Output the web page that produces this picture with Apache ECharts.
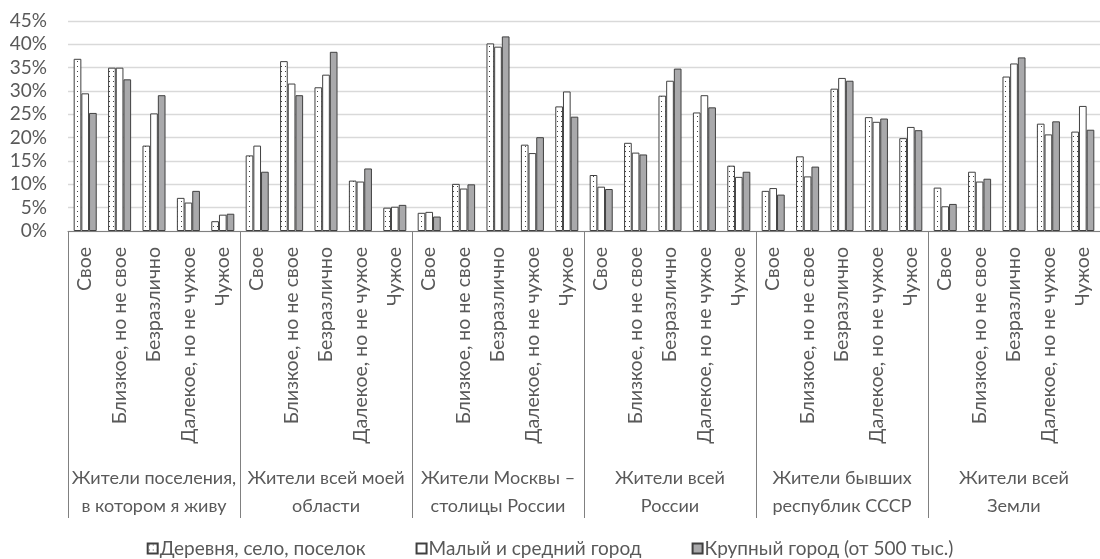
<!DOCTYPE html>
<html><head><meta charset="utf-8">
<script src="https://cdn.jsdelivr.net/npm/echarts@6/dist/echarts.min.js"></script>
<style>html,body{margin:0;padding:0;background:#fff}#c{width:1100px;height:559px}</style>
</head><body><div id="c"></div>
<script>
const subCategories = ['Свое','Близкое, но не свое','Безразлично','Далекое, но не чужое','Чужое'];
const groups = ['Жители поселения,\nв котором я живу','Жители всей моей\nобласти','Жители Москвы –\nстолицы России','Жители всей\nРоссии','Жители бывших\nреспублик СССР','Жители всей\nЗемли'];
const seriesNames = ['Деревня, село, поселок','Малый и средний город','Крупный город (от 500 тыс.)'];
const village = [36.9,35.0,18.3,7.1,2.1, 16.2,36.4,30.8,10.8,5.0, 3.9,10.1,40.2,18.5,26.7, 12.0,18.9,29.0,25.4,14.0, 8.6,16.0,30.5,24.4,19.9, 9.3,12.7,33.1,23.0,21.3];
const smallCity = [29.5,35.0,25.2,6.1,3.5, 18.3,31.6,33.5,10.6,5.2, 4.1,9.1,39.5,16.7,29.9, 9.5,16.8,32.2,29.1,11.6, 9.2,11.7,32.8,23.4,22.3, 5.3,10.6,35.9,20.7,26.8];
const bigCity = [25.3,32.5,29.1,8.6,3.7, 12.7,29.1,38.4,13.4,5.6, 3.1,10.0,41.7,20.1,24.5, 9.0,16.4,34.8,26.5,12.7, 7.8,13.8,32.2,24.1,21.6, 5.8,11.2,37.2,23.5,21.7];
const yTicks = [0,5,10,15,20,25,30,35,40,45];

const categories = [];
groups.forEach(() => subCategories.forEach(s => categories.push(s)));

// dotted pattern
const pc = document.createElement('canvas');
pc.width = 4; pc.height = 5;
const pctx = pc.getContext('2d');
pctx.fillStyle = '#ffffff'; pctx.fillRect(0,0,4,5);
pctx.fillStyle = '#444444';
pctx.fillRect(1,1,1,1);
const dotFill = {image: pc, repeat: 'repeat'};

const FONT = 'Lato';
const TXT = '#595959';
const chart = echarts.init(document.getElementById('c'), null, {renderer:'canvas'});
const border = {borderColor:'#404040', borderWidth:1};
chart.setOption({
  animation:false,
  textStyle:{fontFamily:FONT},
  grid:{left:68, right:-8, top:21, bottom:328, containLabel:false},
  legend:{
    bottom:-4, left:'center', itemWidth:10, itemHeight:10, itemGap:50, icon:'rect',
    textStyle:{color:TXT, fontSize:19, fontFamily:FONT, padding:[0,0,0,-3]},
    data: seriesNames
  },
  xAxis:[{
    type:'category', data:categories, gridIndex:0,
    axisLine:{lineStyle:{color:'#808080', width:1}},
    axisTick:{show:false},
    axisLabel:{rotate:90, margin:16, color:TXT, fontSize:19.5, fontFamily:FONT, interval:0}
  },{
    type:'category', data:groups, gridIndex:0, position:'bottom',
    axisLine:{show:false},
    axisTick:{show:true, length:287, lineStyle:{color:'#808080', width:1}},
    axisLabel:{margin:233, color:TXT, fontSize:18, fontFamily:FONT, lineHeight:28, interval:0}
  }],
  yAxis:{
    type:'value', min:0, max:45, interval:5,
    axisLabel:{formatter:'{value}%', color:TXT, fontSize:19, fontFamily:FONT, margin:21},
    axisLine:{show:false}, axisTick:{show:false},
    splitLine:{lineStyle:{color:'#d9d9d9', width:1.3}}
  },
  series:[
    {name:seriesNames[0], type:'bar', data:village, barGap:'0%', barCategoryGap:'33%', itemStyle:Object.assign({color:dotFill}, border)},
    {name:seriesNames[1], type:'bar', data:smallCity, itemStyle:Object.assign({color:'#ffffff'}, border)},
    {name:seriesNames[2], type:'bar', data:bigCity, itemStyle:Object.assign({color:'#a9a9ab'}, border)}
  ]
});
</script></body></html>
